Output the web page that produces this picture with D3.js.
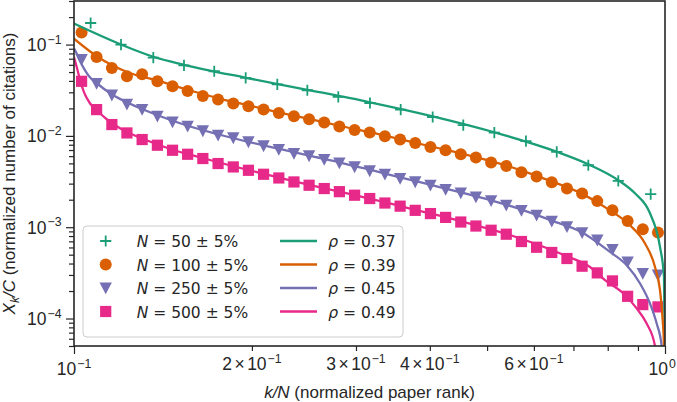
<!DOCTYPE html>
<html><head><meta charset="utf-8">
<script src="https://cdn.jsdelivr.net/npm/d3@7"></script>
<style>body{margin:0;background:#fff}svg{display:block}</style>
</head><body><svg id="c" width="677" height="402"></svg>
<script>
// ---- data ----
const sampleSizes = ["50", "100", "250", "500"];
const rhoValues = ["0.37", "0.39", "0.45", "0.49"];
const colors = ["#1b9e77", "#d95f02", "#7570b3", "#e7298a"];
const markerKinds = ["plus", "circle", "triangle", "square"];

const rankN50 = [0.1067,0.1201,0.1362,0.1535,0.1727,0.1952,0.2208,0.2482,0.2800,0.3168,0.3571,0.4045,0.4557,0.5143,0.5817,0.6559,0.7417,0.8336,0.9458];
const valN50 = [0.1723,0.1000,0.0721,0.0593,0.0510,0.0431,0.0367,0.0316,0.0267,0.0229,0.0194,0.0161,0.0131,0.01088,0.00874,0.00667,0.00477,0.00321,0.00230];

const rankGrid = [0.1030,0.1092,0.1159,0.1229,0.1304,0.1384,0.1468,0.1557,0.1652,0.1753,0.1860,0.1973,0.2093,0.2221,0.2356,0.2499,0.2651,0.2812,0.2984,0.3165,0.3358,0.3563,0.3779,0.4010,0.4254,0.4513,0.4787,0.5079,0.5388,0.5716,0.6064,0.6433,0.6825,0.7240,0.7681,0.8149,0.8645,0.9171,0.9730];
const valN100 = [0.1353,0.0732,0.0554,0.0450,0.0473,0.0396,0.0349,0.0310,0.0274,0.0250,0.0226,0.0211,0.0194,0.0178,0.0164,0.0152,0.0140,0.01266,0.01161,0.01088,0.00991,0.00912,0.00837,0.00756,0.00696,0.00629,0.00579,0.00510,0.00469,0.00400,0.00359,0.00311,0.00265,0.00234,0.00193,0.00153,0.00117,0.00095,0.000874];
const valN250 = [0.0685,0.0374,0.0279,0.0222,0.0194,0.0164,0.0142,0.01274,0.01132,0.01016,0.00949,0.00858,0.00776,0.00709,0.00640,0.00603,0.00551,0.00505,0.00457,0.00413,0.00380,0.00341,0.00313,0.00288,0.00258,0.00237,0.00214,0.00194,0.00174,0.00152,0.00135,0.00116,0.00101,0.000866,0.000720,0.000569,0.000416,0.000311,0.000298];
const valN500 = [0.0396,0.0194,0.0133,0.01077,0.00912,0.00790,0.00696,0.00629,0.00565,0.00498,0.00457,0.00420,0.00380,0.00346,0.00313,0.00288,0.00265,0.00245,0.00224,0.00206,0.00184,0.00170,0.00153,0.00141,0.00128,0.00114,0.00103,0.000926,0.000838,0.000697,0.000603,0.000529,0.000454,0.000374,0.000316,0.000258,0.000175,0.000142,0.000134];

const fitX37 = [0.1,0.1201,0.1362,0.1535,0.1952,0.2482,0.3168,0.4045,0.5143,0.6559,0.7417,0.8336,0.8895,0.9432,0.9807,0.9961,0.99995];
const fitY37 = [0.1697,0.1,0.0735,0.0601,0.0433,0.0320,0.02335,0.0164,0.01096,0.00670,0.00489,0.00327,0.00235,0.00142,0.000608,0.000285,0.00003];
const fitX39 = [0.1,0.1097,0.1161,0.1233,0.1385,0.1557,0.1754,0.1972,0.2217,0.2501,0.2811,0.3168,0.3561,0.4004,0.4511,0.5078,0.5705,0.6415,0.7231,0.8071,0.8726,0.9251,0.9618,0.9807,0.9911,0.9961,0.9999];
const fitY39 = [0.1158,0.0732,0.0593,0.0497,0.0402,0.0320,0.0258,0.02165,0.01814,0.01533,0.01291,0.01096,0.00919,0.00770,0.00645,0.00528,0.00420,0.00319,0.00233,0.00153,0.00105,0.000663,0.000367,0.000204,0.0000958,0.00005,0.00001];
const fitX45 = [0.1,0.1012,0.1024,0.1044,0.1064,0.1093,0.1158,0.1233,0.1307,0.1385,0.1557,0.1754,0.1972,0.2217,0.2501,0.2811,0.3168,0.3561,0.4004,0.4511,0.5078,0.5705,0.6415,0.7231,0.8071,0.8614,0.9073,0.9432,0.9682,0.9872,0.995];
const fitY45 = [0.0911,0.0783,0.0657,0.0523,0.0439,0.0377,0.0286,0.02306,0.01957,0.01682,0.01291,0.01042,0.00862,0.00723,0.00606,0.00514,0.00426,0.00352,0.00292,0.00241,0.00197,0.00157,0.00119,0.000881,0.000536,0.000383,0.000242,0.000146,0.0000881,0.00005,0.00002];
const fitX49 = [0.1,0.1012,0.1024,0.1040,0.1064,0.1093,0.1136,0.1212,0.1307,0.1469,0.1655,0.1860,0.2091,0.2359,0.2652,0.2988,0.3359,0.3776,0.4254,0.4783,0.5383,0.6064,0.6821,0.7465,0.7916,0.8500,0.8956,0.9311,0.9618,0.97];
const fitY49 = [0.0726,0.0550,0.0406,0.0300,0.02278,0.01908,0.01521,0.01152,0.00930,0.00705,0.00569,0.00465,0.00385,0.00318,0.00267,0.00224,0.00188,0.00155,0.00129,0.00105,0.000848,0.000651,0.000481,0.000367,0.000263,0.000188,0.000129,0.0000881,0.00005,0.00002];

const xMajorTicks = [0.1, 1];
const xMajorLabels = [["10", "\u22121"], ["10", "0"]];
const xMinorLabelled = [0.2, 0.3, 0.4, 0.6];
const xMinorLabels = ["2", "3", "4", "6"];
const yMajorTicks = [1e-4, 1e-3, 1e-2, 1e-1];
const yMajorLabels = ["\u22124", "\u22123", "\u22122", "\u22121"];

// ---- setup ----
const ink = "#262626";
const W = 677;
const L = 74, R = 665, T = 1, B = 346;
const svg = d3.select("#c");
const x = d3.scaleLog().domain([0.1, 1]).range([L, R]);
const y = d3.scaleLog().domain([5e-5, 0.3]).range([B, T]);

svg.append("defs").append("clipPath").attr("id", "clip")
  .append("rect").attr("x", L).attr("y", T).attr("width", R - L).attr("height", B - T);

const xMinor = x.ticks().filter(v => !xMajorTicks.some(m => Math.abs(m - v) < 1e-9));
const yMinor = y.ticks().filter(v => !yMajorTicks.some(m => Math.abs(m / v - 1) < 1e-6));

function styleAxis(g) {
  g.select(".domain").remove();
  g.selectAll("text").remove();
  g.selectAll("line").attr("stroke", ink).attr("stroke-width", 1.2);
}
svg.append("g").attr("transform", `translate(0,${B})`)
  .call(d3.axisBottom(x).tickValues(xMajorTicks).tickSize(8)).call(styleAxis);
svg.append("g").attr("transform", `translate(0,${B})`)
  .call(d3.axisBottom(x).tickValues(xMinor).tickSize(5)).call(styleAxis);
svg.append("g").attr("transform", `translate(${L},0)`)
  .call(d3.axisLeft(y).tickValues(yMajorTicks).tickSize(8)).call(styleAxis);
svg.append("g").attr("transform", `translate(${L},0)`)
  .call(d3.axisLeft(y).tickValues(yMinor).tickSize(5)).call(styleAxis);

const tickFont = "'Liberation Sans', Arial, sans-serif";
const tfs = 17.5, sfs = 12.3;
xMajorTicks.forEach((v, i) => {
  const t = svg.append("text").attr("x", x(v)).attr("y", 375).attr("text-anchor", "middle")
    .attr("font-family", tickFont).attr("font-size", tfs).attr("fill", ink);
  t.append("tspan").text(xMajorLabels[i][0]);
  t.append("tspan").attr("dx", 1).attr("dy", -7.5).attr("font-size", sfs).text(xMajorLabels[i][1]);
  // keep the label inside the page
  const bb = t.node().getBBox();
  if (bb.x + bb.width > W - 1) t.attr("x", x(v) - (bb.x + bb.width - (W - 1)));
});
xMinorLabelled.forEach((v, i) => {
  const t = svg.append("text").attr("x", x(v)).attr("y", 370).attr("text-anchor", "middle")
    .attr("font-family", tickFont).attr("font-size", tfs).attr("fill", ink);
  t.append("tspan").text(xMinorLabels[i]);
  t.append("tspan").attr("dx", 2.5).text("\u00d7");
  t.append("tspan").attr("dx", 2.5).text("10");
  t.append("tspan").attr("dx", 1).attr("dy", -7.5).attr("font-size", sfs).text("\u22121");
});
yMajorTicks.forEach((v, i) => {
  const t = svg.append("text").attr("x", 61.5).attr("y", y(v) + 6.5).attr("text-anchor", "end")
    .attr("font-family", tickFont).attr("font-size", tfs).attr("fill", ink);
  t.append("tspan").text("10");
  t.append("tspan").attr("dx", 1).attr("dy", -7.5).attr("font-size", sfs).text(yMajorLabels[i]);
});

// ---- markers and fit lines ----
const fits = [[fitX37, fitY37], [fitX39, fitY39], [fitX45, fitY45], [fitX49, fitY49]];
const line = d3.line().x(d => x(d[0])).y(d => y(d[1])).curve(d3.curveMonotoneX);
const plot = svg.append("g").attr("clip-path", "url(#clip)");
const series = [[rankN50, valN50], [rankGrid, valN100], [rankGrid, valN250], [rankGrid, valN500]];
function drawMarker(g, kind, cx, cy, color) {
  const s = 5.6;
  if (kind === "plus") {
    g.append("path").attr("d", `M${cx - s},${cy}H${cx + s}M${cx},${cy - s}V${cy + s}`)
      .attr("stroke", color).attr("stroke-width", 1.8).attr("fill", "none");
  } else if (kind === "circle") {
    g.append("circle").attr("cx", cx).attr("cy", cy).attr("r", 6).attr("fill", color);
  } else if (kind === "triangle") {
    g.append("path").attr("d", `M${cx - 6.2},${cy - 5.6}L${cx + 6.2},${cy - 5.6}L${cx},${cy + 6.2}Z`).attr("fill", color);
  } else {
    g.append("rect").attr("x", cx - s).attr("y", cy - s).attr("width", 2 * s).attr("height", 2 * s).attr("fill", color);
  }
}
series.forEach((s, i) => {
  const g = plot.append("g");
  s[0].forEach((xv, j) => drawMarker(g, markerKinds[i], x(xv), y(s[1][j]), colors[i]));
});
fits.forEach((f, i) => {
  plot.append("path").datum(f[0].map((v, j) => [v, f[1][j]]))
    .attr("d", line).attr("fill", "none").attr("stroke", colors[i]).attr("stroke-width", 2.3);
});

// frame
svg.append("rect").attr("x", L).attr("y", T).attr("width", R - L).attr("height", B - T)
  .attr("fill", "none").attr("stroke", ink).attr("stroke-width", 1.6);

// ---- axis labels ----
const xl = svg.append("text").attr("x", (L + R) / 2).attr("y", 398).attr("text-anchor", "middle")
  .attr("font-family", tickFont).attr("font-size", 17).attr("fill", ink);
xl.append("tspan").attr("font-style", "italic").text("k/N");
xl.append("tspan").text(" (normalized paper rank)");

const yl = svg.append("text").attr("transform", `translate(15,${(T + B) / 2}) rotate(-90)`)
  .attr("text-anchor", "middle").attr("font-family", tickFont).attr("font-size", 17).attr("fill", ink);
yl.append("tspan").attr("font-style", "italic").text("X");
yl.append("tspan").attr("font-style", "italic").attr("font-size", 12).attr("dy", 4).text("k");
yl.append("tspan").attr("font-style", "italic").attr("dy", -4).text("/C");
yl.append("tspan").text(" (normalized number of citations)");

// ---- legend ----
const lg = svg.append("g");
lg.append("rect").attr("x", 83).attr("y", 226).attr("width", 320).attr("height", 111).attr("rx", 4)
  .attr("fill", "#fff").attr("fill-opacity", 0.8).attr("stroke", "#cccccc").attr("stroke-width", 1);
const rowY = [241, 264.5, 288, 311.5];
const legFont = "'DejaVu Sans', sans-serif";
sampleSizes.forEach((n, i) => {
  drawMarker(lg, markerKinds[i], 105.7, rowY[i], colors[i]);
  const t = lg.append("text").attr("x", 136.7).attr("y", rowY[i] + 6)
    .attr("font-family", legFont).attr("font-size", 15.5).attr("fill", ink);
  t.append("tspan").attr("font-style", "italic").text("N");
  t.append("tspan").text(` = ${n} \u00b1 5%`);
});
rhoValues.forEach((r, i) => {
  lg.append("line").attr("x1", 280).attr("x2", 317).attr("y1", rowY[i]).attr("y2", rowY[i])
    .attr("stroke", colors[i]).attr("stroke-width", 2.3);
  const t = lg.append("text").attr("x", 328.3).attr("y", rowY[i] + 6)
    .attr("font-family", legFont).attr("font-size", 15.5).attr("fill", ink);
  t.append("tspan").attr("font-style", "italic").text("\u03c1");
  t.append("tspan").text(` = ${r}`);
});
</script></body></html>
